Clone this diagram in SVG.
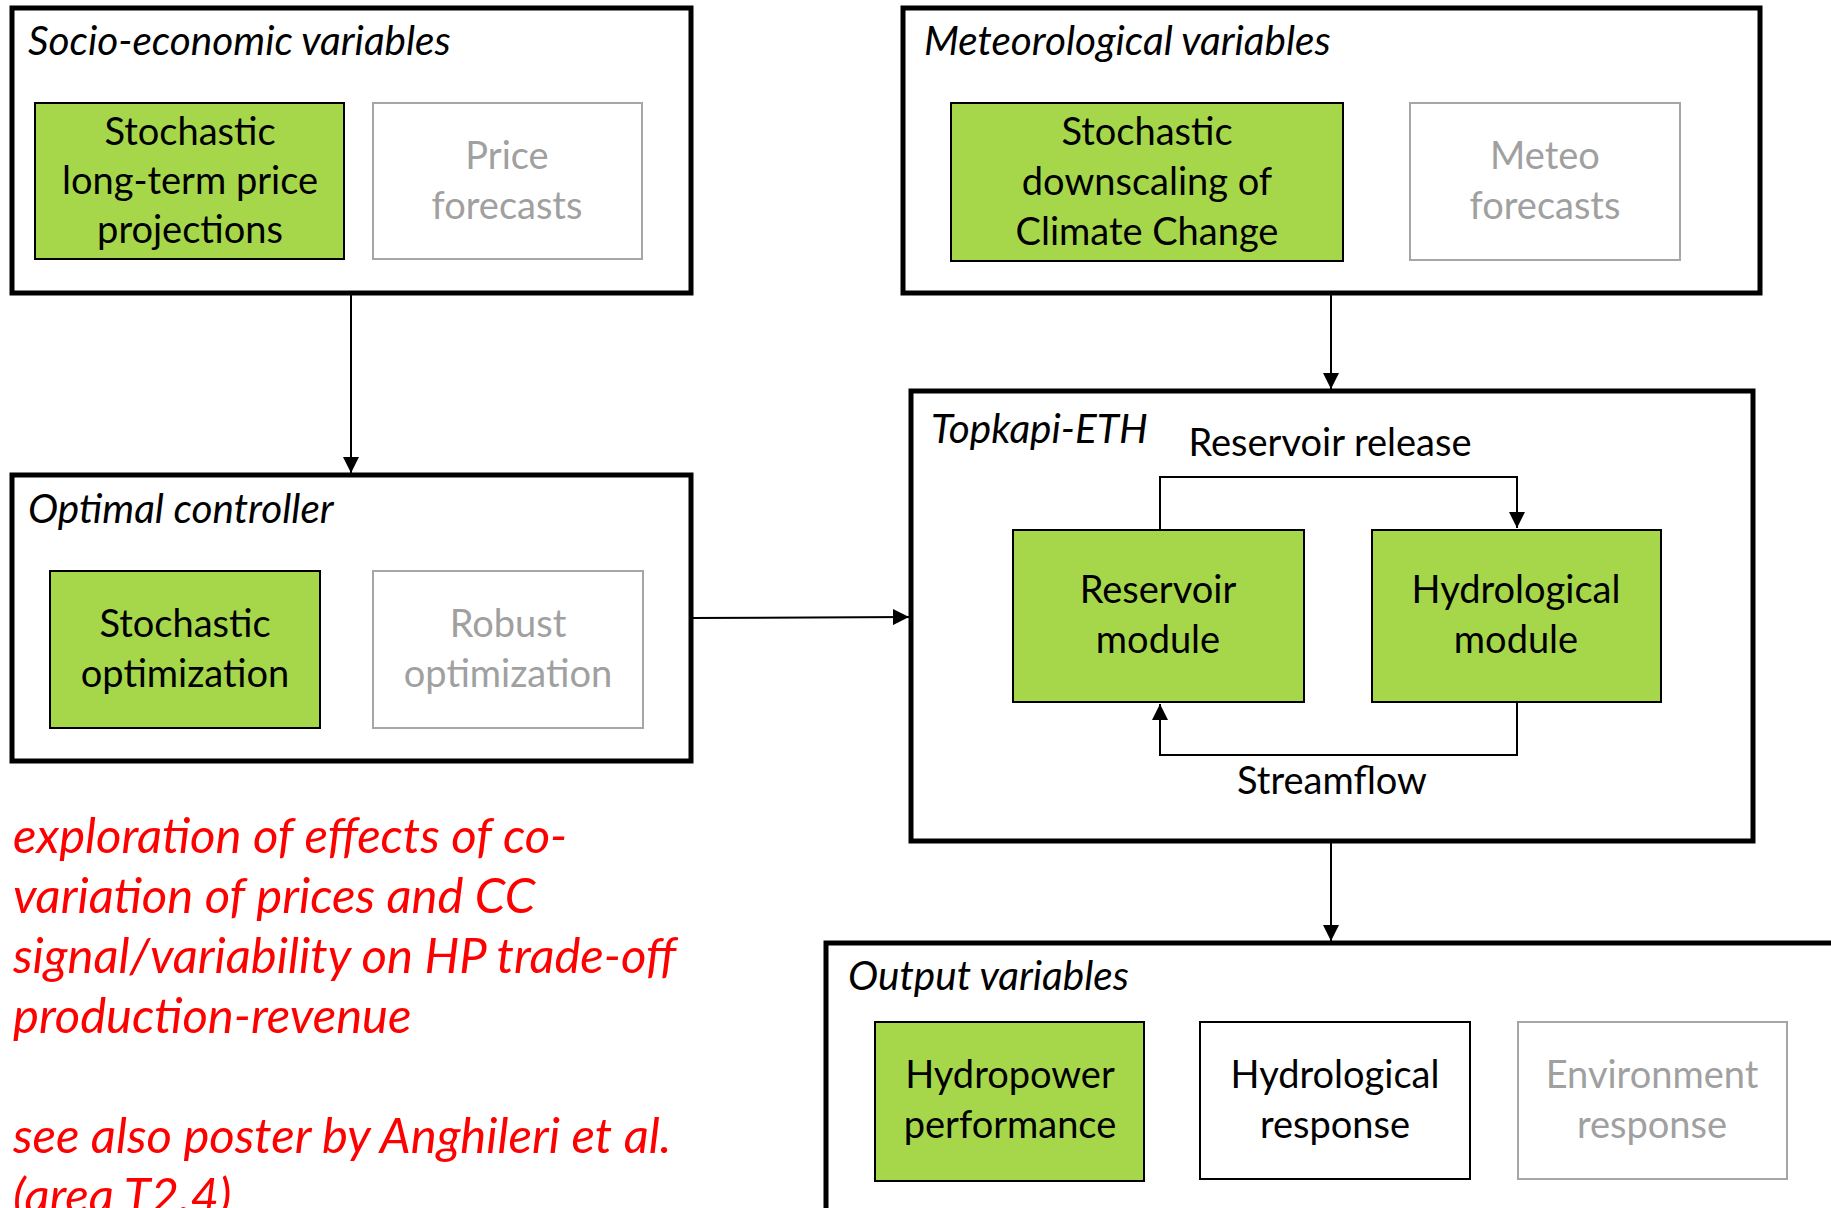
<svg xmlns="http://www.w3.org/2000/svg" width="1831" height="1208" viewBox="0 0 1831 1208">
  <style>
    .outer { fill: #ffffff; stroke: #000000; stroke-width: 5; }
    .green { fill: #a6d74a; stroke: #000000; stroke-width: 2; }
    .plain { fill: #ffffff; stroke: #000000; stroke-width: 2; }
    .faded { fill: #ffffff; stroke: #a6a6a6; stroke-width: 2; }
    .title { font-family: Lato, "Open Sans", sans-serif; font-style: italic; font-size: 40.5px; fill: #000000; }
    .label { font-family: Lato, "Open Sans", sans-serif; font-size: 38px; fill: #000000; text-anchor: middle; }
    .label.dim { fill: #a0a0a0; }
    .note { font-family: Lato, "Open Sans", sans-serif; font-style: italic; font-size: 49px; fill: #ff0000; }
    .wire { fill: none; stroke: #000000; stroke-width: 2; }
  </style>
  <defs>
    <marker id="arrow" viewBox="0 0 16 16" refX="16" refY="8" markerWidth="16" markerHeight="16" markerUnits="userSpaceOnUse" orient="auto">
      <path d="M0,0 L16,8 L0,16 Z" fill="#000000"/>
    </marker>
  </defs>

  <rect width="1831" height="1208" fill="#ffffff"/>

  <!-- Socio-economic variables -->
  <g id="socio-economic">
    <rect class="outer" x="12" y="8" width="679" height="285"/>
    <text class="title" x="28" y="55">Socio-economic variables</text>
    <g id="price-projections">
      <rect class="green" x="35" y="103" width="309" height="156"/>
      <text class="label" x="190" y="145">Stochastic</text>
      <text class="label" x="190" y="194">long-term price</text>
      <text class="label" x="190" y="243">projections</text>
    </g>
    <g id="price-forecasts">
      <rect class="faded" x="373" y="103" width="269" height="156"/>
      <text class="label dim" x="507" y="169">Price</text>
      <text class="label dim" x="507" y="219">forecasts</text>
    </g>
  </g>

  <!-- Meteorological variables -->
  <g id="meteorological">
    <rect class="outer" x="903" y="8" width="857" height="285"/>
    <text class="title" x="924" y="55">Meteorological variables</text>
    <g id="climate-downscaling">
      <rect class="green" x="951" y="103" width="392" height="158"/>
      <text class="label" x="1147" y="145">Stochastic</text>
      <text class="label" x="1147" y="195">downscaling of</text>
      <text class="label" x="1147" y="245">Climate Change</text>
    </g>
    <g id="meteo-forecasts">
      <rect class="faded" x="1410" y="103" width="270" height="157"/>
      <text class="label dim" x="1545" y="169">Meteo</text>
      <text class="label dim" x="1545" y="219">forecasts</text>
    </g>
  </g>

  <!-- Optimal controller -->
  <g id="optimal-controller">
    <rect class="outer" x="12" y="475" width="679" height="286"/>
    <text class="title" x="28" y="523">Optimal controller</text>
    <g id="stochastic-optimization">
      <rect class="green" x="50" y="571" width="270" height="157"/>
      <text class="label" x="185" y="637">Stochastic</text>
      <text class="label" x="185" y="687">optimization</text>
    </g>
    <g id="robust-optimization">
      <rect class="faded" x="373" y="571" width="270" height="157"/>
      <text class="label dim" x="508" y="637">Robust</text>
      <text class="label dim" x="508" y="687">optimization</text>
    </g>
  </g>

  <!-- Topkapi-ETH -->
  <g id="topkapi-eth">
    <rect class="outer" x="911" y="391" width="842" height="450"/>
    <text class="title" x="931" y="443">Topkapi-ETH</text>
    <g id="reservoir-module">
      <rect class="green" x="1013" y="530" width="291" height="172"/>
      <text class="label" x="1158" y="603">Reservoir</text>
      <text class="label" x="1158" y="653">module</text>
    </g>
    <g id="hydrological-module">
      <rect class="green" x="1372" y="530" width="289" height="172"/>
      <text class="label" x="1516" y="603">Hydrological</text>
      <text class="label" x="1516" y="653">module</text>
    </g>
    <text class="label" x="1330" y="456">Reservoir release</text>
    <text class="label" x="1332" y="794">Streamflow</text>
  </g>

  <!-- Output variables -->
  <g id="output-variables">
    <rect class="outer" x="826" y="943" width="1100" height="400"/>
    <text class="title" x="848" y="990">Output variables</text>
    <g id="hydropower-performance">
      <rect class="green" x="875" y="1022" width="269" height="159"/>
      <text class="label" x="1010" y="1088">Hydropower</text>
      <text class="label" x="1010" y="1138">performance</text>
    </g>
    <g id="hydrological-response">
      <rect class="plain" x="1200" y="1022" width="270" height="157"/>
      <text class="label" x="1335" y="1088">Hydrological</text>
      <text class="label" x="1335" y="1138">response</text>
    </g>
    <g id="environment-response">
      <rect class="faded" x="1518" y="1022" width="269" height="157"/>
      <text class="label dim" x="1652" y="1088">Environment</text>
      <text class="label dim" x="1652" y="1138">response</text>
    </g>
  </g>

  <!-- Annotation -->
  <g id="annotation">
    <text class="note" x="13" y="853">exploration of effects of co-</text>
    <text class="note" x="13" y="913">variation of prices and CC</text>
    <text class="note" x="13" y="973">signal/variability on HP trade-off</text>
    <text class="note" x="13" y="1033">production-revenue</text>
    <text class="note" x="13" y="1153">see also poster by Anghileri et al.</text>
    <text class="note" x="13" y="1213">(area T2.4)</text>
  </g>

  <!-- Connectors -->
  <g id="connectors">
    <path class="wire" d="M351,293 L351,473" marker-end="url(#arrow)"/>
    <path class="wire" d="M1331,293 L1331,389" marker-end="url(#arrow)"/>
    <path class="wire" d="M691,618 L909,617" marker-end="url(#arrow)"/>
    <path class="wire" d="M1331,841 L1331,941" marker-end="url(#arrow)"/>
    <path class="wire" d="M1160,530 L1160,477 L1517,477 L1517,528" marker-end="url(#arrow)"/>
    <path class="wire" d="M1517,702 L1517,755 L1160,755 L1160,704" marker-end="url(#arrow)"/>
  </g>
</svg>
